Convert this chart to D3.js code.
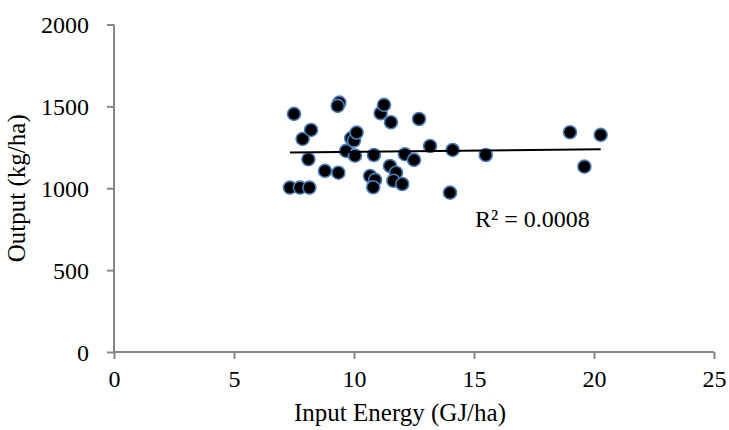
<!DOCTYPE html>
<html>
<head>
<meta charset="utf-8">
<script src="https://cdn.jsdelivr.net/npm/d3@7"></script>
<style>
  body { margin: 0; background: #fff; }
  svg text { font-family: "Liberation Serif", "Times New Roman", serif; fill: #000; }
</style>
</head>
<body>
<svg id="chart" width="729" height="430" font-family="Liberation Serif, serif"></svg>
<script>
// Data
const inputEnergy = [7.33, 7.75, 8.14, 7.5, 7.86, 8.21, 8.1, 8.79, 9.35, 9.39, 9.32, 9.67, 9.88, 10.0, 10.11, 10.04,
  10.83, 10.67, 10.88, 10.8, 11.11, 11.25, 11.54, 11.5, 11.75, 11.64, 12.01, 12.12, 12.5, 12.71, 13.17, 14.11,
  14.0, 15.49, 19.0, 19.6, 20.28];
const output = [1004, 1004, 1004, 1454, 1301, 1356, 1177, 1106, 1095, 1523, 1503, 1228, 1305, 1291, 1340, 1199,
  1203, 1075, 1051, 1006, 1458, 1509, 1403, 1136, 1095, 1046, 1026, 1208, 1173, 1423, 1258, 1234,
  973, 1203, 1342, 1132, 1326];
const trendX = [7.33, 20.28];
const trendY = [1218, 1238];
const xTicks = [0, 5, 10, 15, 20, 25];
const yTicks = [0, 500, 1000, 1500, 2000];
const r2Label = "R² = 0.0008";
const xTitle = "Input Energy (GJ/ha)";
const yTitle = "Output (kg/ha)";

const svg = d3.select("#chart");
const x = d3.scaleLinear().domain([0, 25]).range([114, 714]);
const y = d3.scaleLinear().domain([0, 2000]).range([352, 24.5]);

const axisColor = "#868686";
const serif = "'Liberation Serif', 'Times New Roman', serif";

// Y axis
const yAxis = svg.append("g").attr("transform", "translate(114,0)")
  .call(d3.axisLeft(y).tickValues(yTicks).tickSize(7).tickPadding(18).tickFormat(d3.format("d")));
// X axis
const xAxis = svg.append("g").attr("transform", "translate(0,352)")
  .call(d3.axisBottom(x).tickValues(xTicks).tickSize(7).tickPadding(11).tickFormat(d3.format("d")));

[yAxis, xAxis].forEach(g => {
  g.attr("font-family", serif);
  g.select(".domain").attr("stroke", axisColor).attr("stroke-width", 2);
  g.selectAll(".tick line").attr("stroke", axisColor).attr("stroke-width", 2);
  g.selectAll(".tick text").style("font-family", serif).style("font-size", "24px").attr("fill", "#000");
});
yAxis.select(".domain").attr("d", `M0,${y(2000)}V${y(0)}`);
xAxis.select(".domain").attr("d", `M${x(0)},0H${x(25)}`);
yAxis.selectAll(".tick text").attr("dy", "0.35em");

// Points
svg.append("g").selectAll("circle")
  .data(inputEnergy.map((v, i) => [v, output[i]]))
  .join("circle")
  .attr("cx", d => x(d[0]))
  .attr("cy", d => y(d[1]))
  .attr("r", 6.5)
  .attr("fill", "#000")
  .attr("stroke", "#4a7ebb")
  .attr("stroke-width", 1.6);

// Trend line
svg.append("line")
  .attr("x1", x(trendX[0])).attr("y1", y(trendY[0]))
  .attr("x2", x(trendX[1])).attr("y2", y(trendY[1]))
  .attr("stroke", "#000").attr("stroke-width", 2);

// R² label
svg.append("text").attr("x", 475).attr("y", 227)
  .style("font-family", serif).style("font-size", "24px").text(r2Label);

// Axis titles
svg.append("text").attr("x", 400).attr("y", 421).attr("text-anchor", "middle")
  .style("font-family", serif).style("font-size", "25px").text(xTitle);
svg.append("text").attr("transform", `translate(25,${y(1000)}) rotate(-90)`).attr("text-anchor", "middle")
  .style("font-family", serif).style("font-size", "25px").text(yTitle);
</script>
</body>
</html>
